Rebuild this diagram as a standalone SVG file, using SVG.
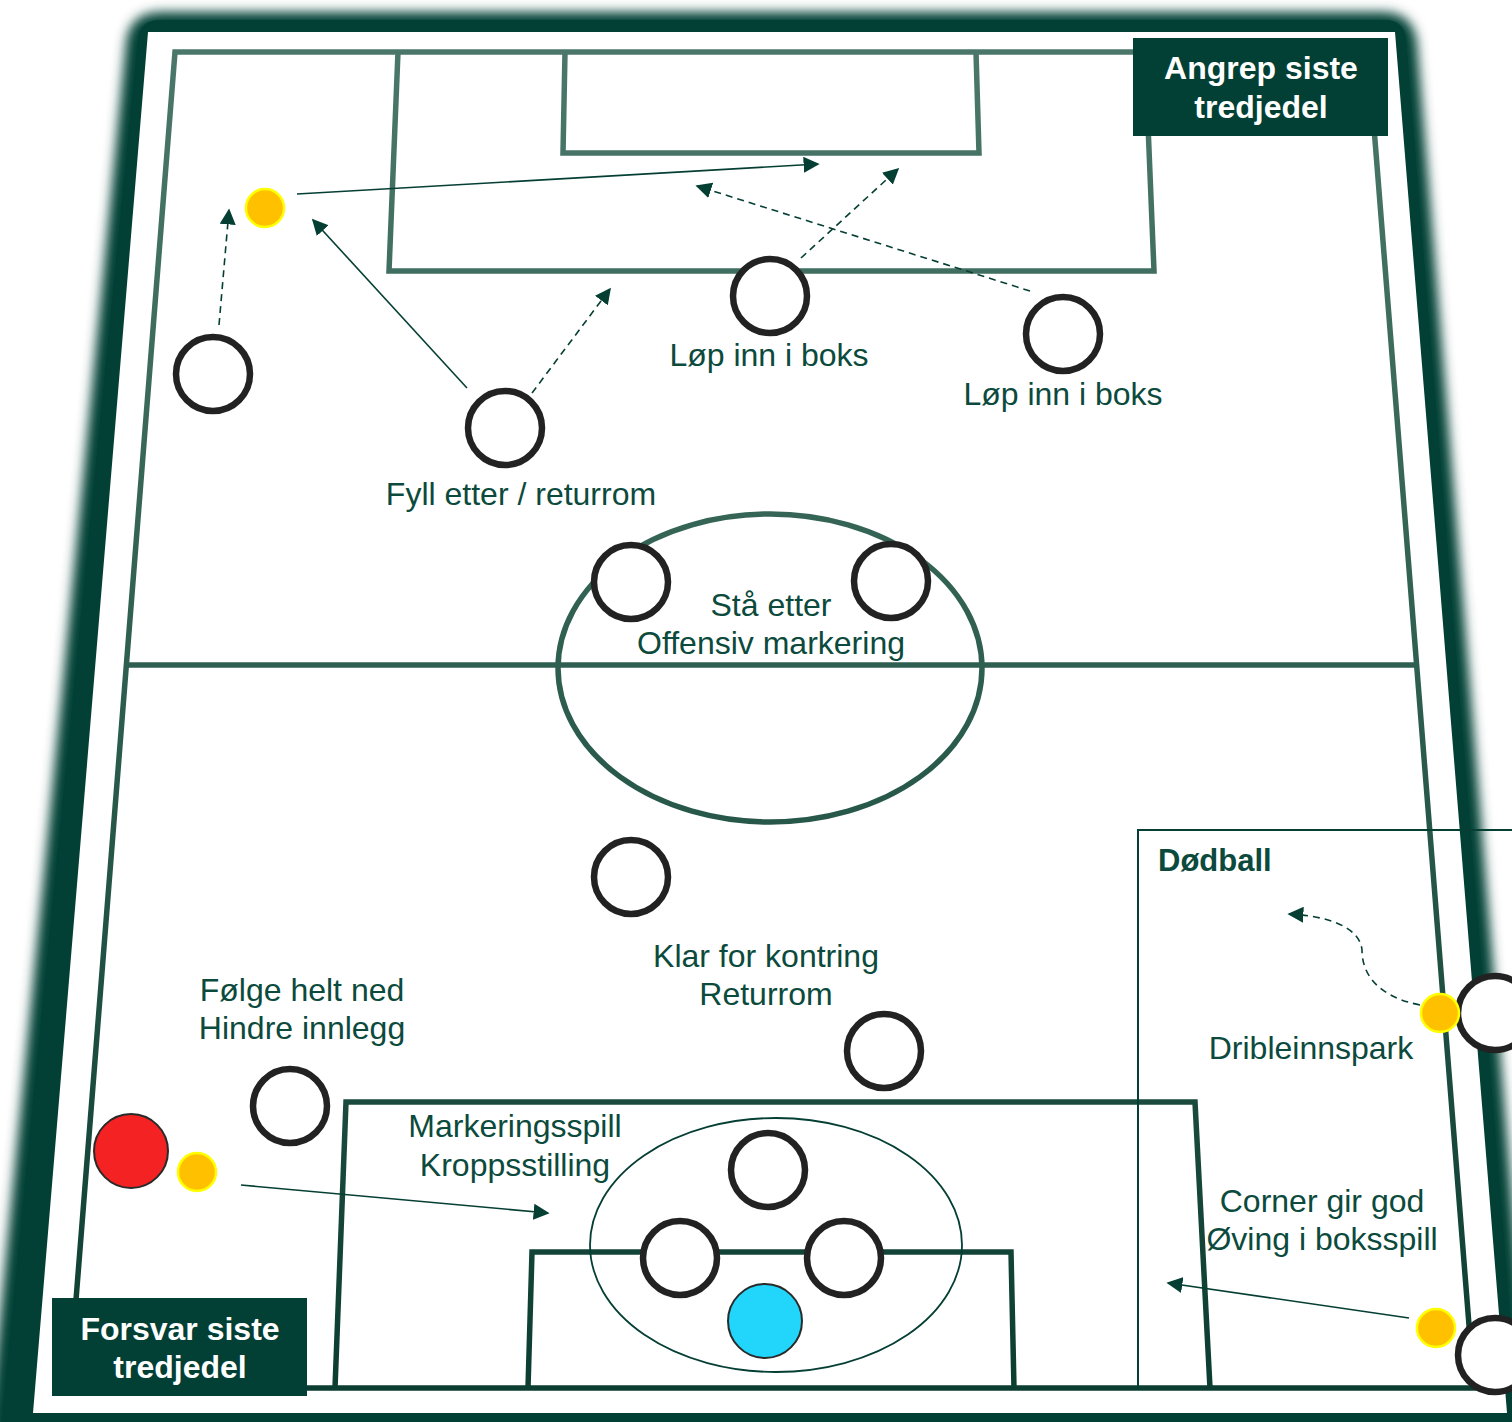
<svg xmlns="http://www.w3.org/2000/svg" width="1512" height="1422" viewBox="0 0 1512 1422">
<defs>
  <filter id="soft" x="-10%" y="-10%" width="120%" height="120%">
    <feGaussianBlur stdDeviation="6"/>
  </filter>
  <linearGradient id="lineGrad" gradientUnits="userSpaceOnUse" x1="0" y1="50" x2="0" y2="1390">
    <stop offset="0" stop-color="#4a7769"/>
    <stop offset="0.45" stop-color="#2f5f50"/>
    <stop offset="1" stop-color="#0c3d31"/>
  </linearGradient>
  <marker id="ah" viewBox="0 0 10 10" refX="9" refY="5" markerWidth="16" markerHeight="16" markerUnits="userSpaceOnUse" orient="auto">
    <path d="M0,0 L10,5 L0,10 Z" fill="#053f34"/>
  </marker>
  <style>
    .field { fill: none; stroke: url(#lineGrad); stroke-width: 5.5; stroke-linejoin: miter; }
    .player { fill: #ffffff; stroke: #222222; stroke-width: 6.5; }
    .ball { fill: #ffc000; stroke: #ffff00; stroke-width: 2.5; }
    .conn { fill: none; stroke: #053f34; stroke-width: 1.6; marker-end: url(#ah); }
    .dash { stroke-dasharray: 7 5; }
    .lbl { font-family: "Liberation Sans", Arial, sans-serif; font-size: 32px; fill: #0b4a3c; text-anchor: middle; }
    .title { font-family: "Liberation Sans", Arial, sans-serif; font-size: 32px; font-weight: bold; fill: #ffffff; text-anchor: middle; }
    .box { fill: #023f35; }
  </style>
</defs>

<rect width="1512" height="1422" fill="#ffffff"/>

<!-- outer frame with soft edge -->
<g id="frame">
  <path d="M162,12 L1382,12 Q1414,12 1417,44 L1532,1440 L-12,1440 L126,44 Q129,12 162,12 Z" fill="#023f35" filter="url(#soft)"/>
  <path d="M160,20 L1385,20 Q1404,20 1406,40 L1520,1440 L0,1440 L138,40 Q140,20 160,20 Z" fill="#023f35"/>
  <polygon points="148,32 1395,32 1507,1413 33,1413" fill="#ffffff"/>
</g>

<!-- field markings -->
<g id="pitch">
  <polygon class="field" points="175,52 1368,52 1474,1388 69,1388"/>
  <line class="field" x1="127" y1="665" x2="1416" y2="665"/>
  <polyline class="field" points="398,52 389,271 1154,271 1145,52"/>
  <polyline class="field" points="565,52 563,153 979,153 976,52"/>
  <ellipse class="field" cx="770" cy="668" rx="212" ry="154"/>
  <polyline class="field" points="335,1388 346,1102 1195,1102 1210,1388"/>
  <polyline class="field" points="528,1388 532,1252 1011,1252 1014,1388"/>
  <ellipse cx="776" cy="1245" rx="186" ry="127" fill="none" stroke="#053f34" stroke-width="1.8"/>
  <polyline points="1512,830 1138,830 1138,1390" fill="none" stroke="#053f34" stroke-width="2"/>
</g>

<!-- label boxes -->
<g id="label-angrep">
  <rect class="box" x="1133" y="38" width="255" height="98"/>
  <text class="title" x="1261" y="79">Angrep siste</text>
  <text class="title" x="1261" y="118">tredjedel</text>
</g>
<g id="label-forsvar">
  <rect class="box" x="52" y="1298" width="255" height="98"/>
  <text class="title" x="180" y="1340">Forsvar siste</text>
  <text class="title" x="180" y="1378">tredjedel</text>
</g>

<!-- connectors -->
<g id="connectors">
  <line class="conn" x1="297" y1="194" x2="818" y2="164"/>
  <line class="conn dash" x1="219" y1="325" x2="229" y2="210"/>
  <line class="conn" x1="467" y1="388" x2="313" y2="220"/>
  <line class="conn dash" x1="532" y1="393" x2="610" y2="289"/>
  <line class="conn dash" x1="801" y1="258" x2="898" y2="169"/>
  <line class="conn dash" x1="1030" y1="291" x2="697" y2="186"/>
  <line class="conn" x1="241" y1="1185" x2="548" y2="1213"/>
  <path class="conn dash" d="M1420,1005 C1375,996 1362,972 1362,950 C1360,928 1330,916 1289,914"/>
  <line class="conn" x1="1409" y1="1318" x2="1168" y2="1283"/>
</g>

<!-- players -->
<g id="p1"><circle class="player" cx="213" cy="374" r="37"/></g>
<g id="p2"><circle class="player" cx="505" cy="428" r="37"/></g>
<g id="p3"><circle class="player" cx="770" cy="296" r="37"/></g>
<g id="p4"><circle class="player" cx="1063" cy="334" r="37"/></g>
<g id="p5"><circle class="player" cx="631" cy="582" r="37"/></g>
<g id="p6"><circle class="player" cx="891" cy="581" r="37"/></g>
<g id="p7"><circle class="player" cx="631" cy="877" r="37"/></g>
<g id="p8"><circle class="player" cx="884" cy="1051" r="37"/></g>
<g id="p9"><circle class="player" cx="290" cy="1106" r="37"/></g>
<g id="p10"><circle class="player" cx="768" cy="1170" r="37"/></g>
<g id="p11"><circle class="player" cx="680" cy="1258" r="37"/></g>
<g id="p12"><circle class="player" cx="844" cy="1258" r="37"/></g>
<g id="p13"><circle class="player" cx="1495" cy="1013" r="37"/></g>
<g id="p14"><circle class="player" cx="1495" cy="1355" r="37"/></g>
<g id="opponent"><circle cx="131" cy="1151" r="37" fill="#f42222" stroke="#2a2a2a" stroke-width="2"/></g>
<g id="keeper"><circle cx="765" cy="1321" r="37" fill="#22d5fb" stroke="#2a2a2a" stroke-width="2"/></g>

<!-- balls -->
<g id="ball1"><circle class="ball" cx="265" cy="208" r="19"/></g>
<g id="ball2"><circle class="ball" cx="197" cy="1172" r="19"/></g>
<g id="ball3"><circle class="ball" cx="1440" cy="1013" r="19"/></g>
<g id="ball4"><circle class="ball" cx="1436" cy="1328" r="19"/></g>

<!-- labels -->
<g id="texts">
  <text class="lbl" x="769" y="366">Løp inn i boks</text>
  <text class="lbl" x="1063" y="405">Løp inn i boks</text>
  <text class="lbl" x="521" y="505">Fyll etter / returrom</text>
  <text class="lbl" x="771" y="616">Stå etter</text>
  <text class="lbl" x="771" y="654">Offensiv markering</text>
  <text class="lbl" x="766" y="967">Klar for kontring</text>
  <text class="lbl" x="766" y="1005">Returrom</text>
  <text class="lbl" x="302" y="1001">Følge helt ned</text>
  <text class="lbl" x="302" y="1039">Hindre innlegg</text>
  <text class="lbl" x="515" y="1137">Markeringsspill</text>
  <text class="lbl" x="515" y="1176">Kroppsstilling</text>
  <text class="lbl" x="1158" y="871" style="text-anchor:start;font-weight:bold;font-size:31px">Dødball</text>
  <text class="lbl" x="1311" y="1059">Dribleinnspark</text>
  <text class="lbl" x="1322" y="1212">Corner gir god</text>
  <text class="lbl" x="1322" y="1250">Øving i boksspill</text>
</g>
</svg>
